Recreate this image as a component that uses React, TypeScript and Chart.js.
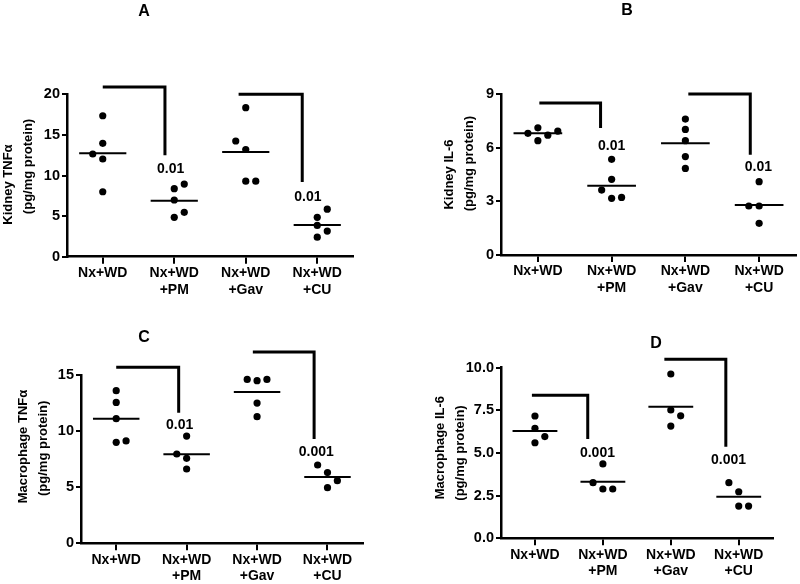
import React, { useEffect, useRef } from "react";
import { Chart, registerables } from "chart.js";

Chart.register(...registerables);

// ---------- shared categories ----------
const categoryLabels: string[][] = [
  ["Nx+WD"],
  ["Nx+WD", "+PM"],
  ["Nx+WD", "+Gav"],
  ["Nx+WD", "+CU"],
];

// ---------- Panel A: Kidney TNFα ----------
const kidneyTnfTicks = [0, 5, 10, 15, 20];
const kidneyTnfValues = [
  [17.36, 13.96, 12.65, 12.03, 8.0],
  [8.95, 8.38, 6.98, 5.46, 4.85],
  [18.35, 14.25, 13.2, 9.3, 9.3],
  [5.85, 4.85, 3.85, 3.16, 2.4],
];
const kidneyTnfJitter = [
  [0, 0, -0.14, 0, 0],
  [0.14, 0, 0, 0.14, 0],
  [0, -0.14, 0, 0, 0.14],
  [0.14, 0, 0, 0.14, 0],
];
const kidneyTnfMedians = [12.73, 6.9, 12.9, 3.9];
const kidneyTnfBrackets = [
  [0, 0.87, 20.9, 12.5],
  [1.9, 2.79, 20.0, 9.2],
];
const kidneyTnfPLabels = ["0.01", "0.01"];
const kidneyTnfPX = [0.95, 2.87];
const kidneyTnfPY = [10.8, 7.3];

// ---------- Panel B: Kidney IL-6 ----------
const kidneyIl6Ticks = [0, 3, 6, 9];
const kidneyIl6Values = [
  [6.8, 7.11, 6.39, 6.7, 6.93],
  [5.35, 4.23, 3.63, 3.17, 3.22],
  [7.6, 7.02, 6.39, 5.5, 4.84],
  [4.1, 2.74, 2.74, 1.77],
];
const kidneyIl6Jitter = [
  [-0.135, 0, 0, 0.135, 0.27],
  [0, 0, -0.135, 0, 0.135],
  [0, 0, 0, 0, 0],
  [0, -0.14, 0, 0],
];
const kidneyIl6Medians = [6.8, 3.87, 6.24, 2.8];
const kidneyIl6Brackets = [
  [0.02, 0.85, 8.5, 7.1],
  [2.04, 2.88, 9.0, 5.6],
];
const kidneyIl6PLabels = ["0.01", "0.01"];
const kidneyIl6PX = [1.0, 2.99];
const kidneyIl6PY = [6.09, 4.93];

// ---------- Panel C: Macrophage TNFα ----------
const macroTnfTicks = [0, 5, 10, 15];
const macroTnfValues = [
  [13.6, 12.56, 11.11, 9.0, 9.12],
  [9.56, 7.96, 7.57, 6.62],
  [14.61, 14.49, 14.61, 12.5, 11.29],
  [6.98, 6.3, 5.58, 4.96],
];
const macroTnfJitter = [
  [0, 0, 0, 0, 0.14],
  [0, -0.14, 0, 0],
  [-0.14, 0, 0.14, 0, 0],
  [-0.14, 0, 0.14, 0],
];
const macroTnfMedians = [11.1, 7.93, 13.48, 5.91];
const macroTnfBrackets = [
  [0, 0.887, 15.7, 11.64],
  [1.94, 2.81, 17.05, 9.3],
];
const macroTnfPLabels = ["0.01", "0.001"];
const macroTnfPX = [0.9, 2.84];
const macroTnfPY = [10.5, 8.1];

// ---------- Panel D: Macrophage IL-6 ----------
const macroIl6Ticks = [0, 2.5, 5, 7.5, 10];
const macroIl6Values = [
  [7.17, 6.45, 5.96, 5.6],
  [4.36, 3.26, 2.89, 2.89],
  [9.63, 7.52, 7.18, 6.58],
  [3.26, 2.73, 1.89, 1.89],
];
const macroIl6Jitter = [
  [0, 0, 0.145, 0],
  [0, -0.145, 0, 0.145],
  [0, 0, 0.145, 0],
  [-0.145, 0, 0, 0.145],
];
const macroIl6Medians = [6.29, 3.32, 7.71, 2.44];
const macroIl6Brackets = [
  [-0.045, 0.777, 8.38, 5.82],
  [1.905, 2.81, 10.49, 5.37],
];
const macroIl6PLabels = ["0.001", "0.001"];
const macroIl6PX = [0.92, 2.85];
const macroIl6PY = [5.0, 4.59];

// ---------- layout / style ----------
type Panel = {
  letter: string;
  letterX: number;
  letterY: number;
  yTitle: string[];
  yTitleX: number;
  boxLeft: number;
  area: { left: number; top: number; right: number; bottom: number };
  ticks: number[];
  decimals: number;
  values: number[][];
  jitter: number[][];
  medians: number[];
  brackets: number[][];
  pLabels: string[];
  pX: number[];
  pY: number[];
};

const panels: Panel[] = [
  {
    letter: "A", letterX: 144, letterY: 12,
    yTitle: ["Kidney TNFα     ", "     (pg/mg protein)"], yTitleX: 8.5, boxLeft: 0,
    area: { left: 67, top: 94.3, right: 353, bottom: 256.7 },
    ticks: kidneyTnfTicks, decimals: 0,
    values: kidneyTnfValues, jitter: kidneyTnfJitter, medians: kidneyTnfMedians,
    brackets: kidneyTnfBrackets, pLabels: kidneyTnfPLabels, pX: kidneyTnfPX, pY: kidneyTnfPY,
  },
  {
    letter: "B", letterX: 627, letterY: 11,
    yTitle: ["Kidney IL-6", "      (pg/mg protein)"], yTitleX: 449.3, boxLeft: 400,
    area: { left: 501, top: 94, right: 797, bottom: 255 },
    ticks: kidneyIl6Ticks, decimals: 0,
    values: kidneyIl6Values, jitter: kidneyIl6Jitter, medians: kidneyIl6Medians,
    brackets: kidneyIl6Brackets, pLabels: kidneyIl6PLabels, pX: kidneyIl6PX, pY: kidneyIl6PY,
  },
  {
    letter: "C", letterX: 144, letterY: 338,
    yTitle: ["       Macrophage TNFα", "      (pg/mg protein)"], yTitleX: 23.3, boxLeft: 0,
    area: { left: 81, top: 375, right: 362.7, bottom: 543.3 },
    ticks: macroTnfTicks, decimals: 0,
    values: macroTnfValues, jitter: macroTnfJitter, medians: macroTnfMedians,
    brackets: macroTnfBrackets, pLabels: macroTnfPLabels, pX: macroTnfPX, pY: macroTnfPY,
  },
  {
    letter: "D", letterX: 656, letterY: 344,
    yTitle: ["   Macrophage IL-6", "(pg/mg protein)"], yTitleX: 440, boxLeft: 400,
    area: { left: 501, top: 367.7, right: 772.7, bottom: 538.3 },
    ticks: macroIl6Ticks, decimals: 1,
    values: macroIl6Values, jitter: macroIl6Jitter, medians: macroIl6Medians,
    brackets: macroIl6Brackets, pLabels: macroIl6PLabels, pX: macroIl6PX, pY: macroIl6PY,
  },
];

const W = 800;
const H = 584;
const X_AXIS_H = 40;
const FONT = '"Liberation Sans", Arial, Helvetica, sans-serif';
const BLACK = "#000000";
const TITLE_LINE = 20;

function buildConfig(p: Panel): any {
  const datasets: any[] = [];
  p.values.forEach((grp, i) => {
    datasets.push({
      data: grp.map((v, j) => ({ x: i + p.jitter[i][j], y: v })),
      showLine: false,
      pointRadius: 3.6,
      pointBackgroundColor: BLACK,
      pointBorderColor: BLACK,
      pointBorderWidth: 0,
    });
  });
  p.medians.forEach((m, i) => {
    datasets.push({
      data: [
        { x: i - 0.33, y: m },
        { x: i + 0.33, y: m },
      ],
      showLine: true,
      borderColor: BLACK,
      borderWidth: 2,
      pointRadius: 0,
      borderCapStyle: "butt",
    });
  });
  p.brackets.forEach(([x0, x1, top, bottom]) => {
    datasets.push({
      data: [
        { x: x0, y: top },
        { x: x1, y: top },
        { x: x1, y: bottom },
      ],
      showLine: true,
      borderColor: BLACK,
      borderWidth: 3,
      pointRadius: 0,
      clip: false,
      tension: 0,
      borderJoinStyle: "miter",
      borderCapStyle: "butt",
    });
  });

  const annotate = {
    id: "annotate" + p.letter,
    afterDatasetsDraw(chart: any) {
      const ctx = chart.ctx;
      const xs = chart.scales.x;
      const ys = chart.scales.y;
      ctx.save();
      ctx.fillStyle = BLACK;
      ctx.textAlign = "center";
      ctx.textBaseline = "middle";
      ctx.font = `bold 14px ${FONT}`;
      p.pLabels.forEach((t, i) => {
        ctx.fillText(t, xs.getPixelForValue(p.pX[i]), ys.getPixelForValue(p.pY[i]));
      });
      ctx.font = `bold 16px ${FONT}`;
      ctx.fillText(p.letter, p.letterX, p.letterY);
      ctx.restore();
    },
  };

  return {
    type: "scatter",
    data: { datasets },
    options: {
      animation: false,
      responsive: false,
      events: [],
      layout: {
        padding: {
          left: p.boxLeft,
          top: p.area.top,
          right: W - p.area.right,
          bottom: H - p.area.bottom - X_AXIS_H,
        },
      },
      plugins: {
        legend: { display: false },
        tooltip: { enabled: false },
        title: { display: false },
      },
      scales: {
        x: {
          type: "linear",
          min: -0.5,
          max: 3.5,
          afterBuildTicks: (s: any) => {
            s.ticks = categoryLabels.map((_, i) => ({ value: i }));
          },
          afterFit: (s: any) => {
            s.height = X_AXIS_H;
          },
          ticks: {
            autoSkip: false,
            maxRotation: 0,
            minRotation: 0,
            padding: 1,
            color: BLACK,
            font: { family: FONT, size: 14, weight: "bold", lineHeight: 1.2 },
            callback: (v: number) => categoryLabels[Math.round(v)] ?? "",
          },
          grid: {
            drawOnChartArea: false,
            drawTicks: true,
            tickLength: 7,
            color: BLACK,
            lineWidth: 2,
          },
          border: { display: true, color: BLACK, width: 2.5 },
        },
        y: {
          type: "linear",
          min: p.ticks[0],
          max: p.ticks[p.ticks.length - 1],
          afterBuildTicks: (s: any) => {
            s.ticks = p.ticks.map((v) => ({ value: v }));
          },
          afterFit: (s: any) => {
            s.width = p.area.left - p.boxLeft;
          },
          ticks: {
            padding: 2,
            color: BLACK,
            font: { family: FONT, size: 14.5, weight: "bold" },
            callback: (v: number) => Number(v).toFixed(p.decimals),
          },
          title: {
            display: true,
            text: p.yTitle,
            color: BLACK,
            font: { family: FONT, size: 13, weight: "bold", lineHeight: TITLE_LINE / 13 },
            padding: { top: p.yTitleX - p.boxLeft - TITLE_LINE / 2, bottom: 0 },
          },
          grid: {
            drawOnChartArea: false,
            drawTicks: true,
            tickLength: 5,
            color: BLACK,
            lineWidth: 2,
          },
          border: { display: true, color: BLACK, width: 2.5 },
        },
      },
    },
    plugins: [annotate],
  };
}

function PanelChart({ p }: { p: Panel }) {
  const ref = useRef<HTMLCanvasElement | null>(null);
  useEffect(() => {
    if (!ref.current) return;
    const chart = new Chart(ref.current, buildConfig(p));
    return () => chart.destroy();
  }, [p]);
  return (
    <canvas
      ref={ref}
      width={W}
      height={H}
      style={{ position: "absolute", left: 0, top: 0, width: W, height: H }}
    />
  );
}

export default function App() {
  return (
    <div
      style={{
        position: "absolute",
        left: 0,
        top: 0,
        width: W,
        height: H,
        background: "#ffffff",
        overflow: "hidden",
      }}
    >
      {panels.map((p) => (
        <PanelChart key={p.letter} p={p} />
      ))}
    </div>
  );
}
